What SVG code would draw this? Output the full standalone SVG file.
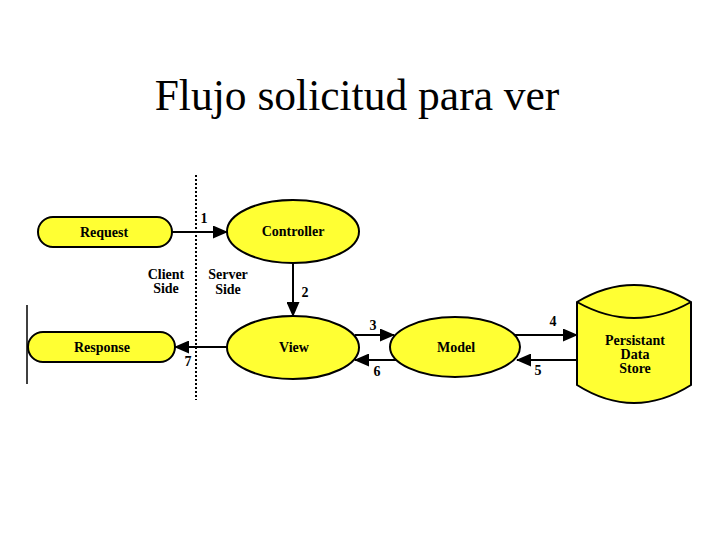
<svg xmlns="http://www.w3.org/2000/svg" width="720" height="540" viewBox="0 0 720 540">
<style>
.node{fill:#ffff33;stroke:#000;stroke-width:2}
.lbl{font-family:'Liberation Serif','DejaVu Serif',serif;font-weight:700;font-size:14px;text-anchor:middle;fill:#000}
.num{font-family:'Liberation Serif','DejaVu Serif',serif;font-weight:700;font-size:14px;text-anchor:middle;fill:#000}
.edge{stroke:#000;stroke-width:2;fill:none;marker-end:url(#ah)}
</style>
<defs>
<marker id="ah" markerUnits="userSpaceOnUse" markerWidth="15" markerHeight="13" refX="14" refY="6.5" orient="auto">
<path d="M0,0 L15,6.5 L0,13 z" fill="#000"/>
</marker>
</defs>
<rect width="720" height="540" fill="#fff"/>
<text x="357" y="110" font-family="'Liberation Serif','Times New Roman',serif" font-size="43.5" text-anchor="middle" fill="#000">Flujo solicitud para ver</text>
<g id="boundary">
<line x1="196" y1="175" x2="196" y2="400" stroke="#000" stroke-width="2" stroke-dasharray="2 2"/>
<line x1="27" y1="305" x2="27" y2="384" stroke="#000" stroke-width="1.5"/>
<text class="lbl" x="166" y="279">Client</text>
<text class="lbl" x="166" y="293">Side</text>
<text class="lbl" x="228" y="279">Server</text>
<text class="lbl" x="228" y="294">Side</text>
</g>
<g id="connectors">
<line class="edge" x1="172" y1="232" x2="227" y2="232"/>
<line class="edge" x1="293" y1="263" x2="293" y2="316"/>
<line class="edge" x1="355" y1="335" x2="394" y2="335"/>
<line class="edge" x1="515" y1="335" x2="577" y2="335"/>
<line class="edge" x1="577" y1="360" x2="517" y2="360"/>
<line class="edge" x1="396" y1="360" x2="355" y2="360"/>
<line class="edge" x1="227" y1="347" x2="175" y2="347"/>
<text class="num" x="204" y="223">1</text>
<text class="num" x="305" y="297">2</text>
<text class="num" x="373" y="330">3</text>
<text class="num" x="553" y="326">4</text>
<text class="num" x="538" y="375">5</text>
<text class="num" x="377" y="376">6</text>
<text class="num" x="188" y="366">7</text>
</g>
<g id="request">
<rect class="node" x="38" y="217" width="134" height="30" rx="15"/>
<text class="lbl" x="104" y="237">Request</text>
</g>
<g id="response">
<rect class="node" x="28" y="332" width="147" height="30" rx="15"/>
<text class="lbl" x="102" y="352">Response</text>
</g>
<g id="controller">
<ellipse class="node" cx="293" cy="231.5" rx="66" ry="31.5"/>
<text class="lbl" x="293" y="236">Controller</text>
</g>
<g id="view">
<ellipse class="node" cx="293" cy="347.5" rx="66" ry="31.5"/>
<text class="lbl" x="294" y="352">View</text>
</g>
<g id="model">
<ellipse class="node" cx="455" cy="347" rx="65" ry="30"/>
<text class="lbl" x="456" y="352">Model</text>
</g>
<g id="datastore">
<path class="node" d="M577,302 Q634,268 691,302 L691,385 Q634,421 577,385 Z"/>
<path d="M577,302 Q634,334 691,302" fill="none" stroke="#000" stroke-width="2"/>
<text class="lbl" x="635" y="345">Persistant</text>
<text class="lbl" x="635" y="359">Data</text>
<text class="lbl" x="635" y="373">Store</text>
</g>
</svg>
